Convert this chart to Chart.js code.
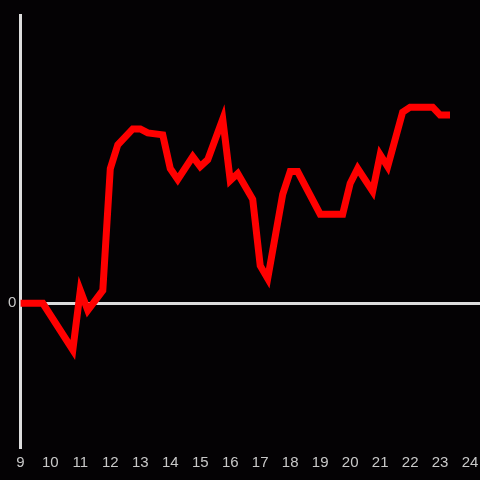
<!DOCTYPE html>
<html>
<head>
<meta charset="utf-8">
<script src="https://cdn.jsdelivr.net/npm/chart.js@4/dist/chart.umd.min.js"></script>
<style>
  html, body { margin: 0; padding: 0; background: #040204; }
  #wrap { width: 480px; height: 480px; }
</style>
</head>
<body>
<div id="wrap"><canvas id="lineChart"></canvas></div>
<script>
/* Series: hour of day vs. value */
const hours = [9, 9.75, 10.75, 11, 11.25, 11.75, 12, 12.25, 12.75, 13, 13.25, 13.75,
  14, 14.25, 14.75, 15, 15.25, 15.75, 16, 16.25, 16.75, 17, 17.25, 17.75,
  18, 18.25, 19, 19.75, 20, 20.25, 20.75, 21, 21.25, 21.75, 22, 22.75, 23, 23.33];
const values = [0, 0, -4.7, 1.3, -0.7, 1.3, 13.6, 16.0, 17.6, 17.6, 17.2, 17.0,
  13.6, 12.5, 14.8, 13.8, 14.5, 18.6, 12.4, 13.1, 10.5, 3.8, 2.5, 11.0,
  13.3, 13.3, 9.0, 9.0, 12.1, 13.6, 11.3, 15.0, 13.8, 19.3, 19.8, 19.8, 19.0, 19.0];
const yTicks = [0];

const axisColor = '#dcdcdc';

/* Paint the near-black backdrop behind everything. */
const background = {
  id: 'background',
  beforeDraw(chart) {
    const { ctx, width, height } = chart;
    ctx.save();
    ctx.fillStyle = '#040204';
    ctx.fillRect(0, 0, width, height);
    ctx.restore();
  },
};

new Chart(document.getElementById('lineChart'), {
  type: 'line',
  data: {
    datasets: [{
      data: hours.map((h, i) => ({ x: h, y: values[i] })),
      borderColor: '#ff0000',
      borderWidth: 7,
      pointRadius: 0,
      tension: 0,
    }],
  },
  options: {
    responsive: true,
    maintainAspectRatio: false,
    animation: false,
    layout: { padding: { top: 15, bottom: 9, left: 4, right: -3 } },
    plugins: { legend: { display: false }, tooltip: { enabled: false } },
    scales: {
      x: {
        type: 'linear',
        min: 9,
        max: 24.33,
        grid: { display: false },
        border: { display: false },
        ticks: {
          stepSize: 1,
          includeBounds: false,
          color: '#c8c8c8',
          padding: -1,
          font: { family: 'Liberation Sans', size: 15 },
          maxRotation: 0,
        },
      },
      y: {
        min: -14.5,
        max: 29.1,
        afterBuildTicks: (scale) => { scale.ticks = yTicks.map((v) => ({ value: v })); },
        border: { display: true, color: axisColor, width: 3 },
        grid: {
          drawTicks: false,
          color: (c) => (c.tick && c.tick.value === 0 ? axisColor : 'transparent'),
          lineWidth: 3,
        },
        ticks: {
          color: '#c8c8c8',
          padding: 4,
          font: { family: 'Liberation Sans', size: 15 },
        },
      },
    },
  },
  plugins: [background],
});
</script>
</body>
</html>
